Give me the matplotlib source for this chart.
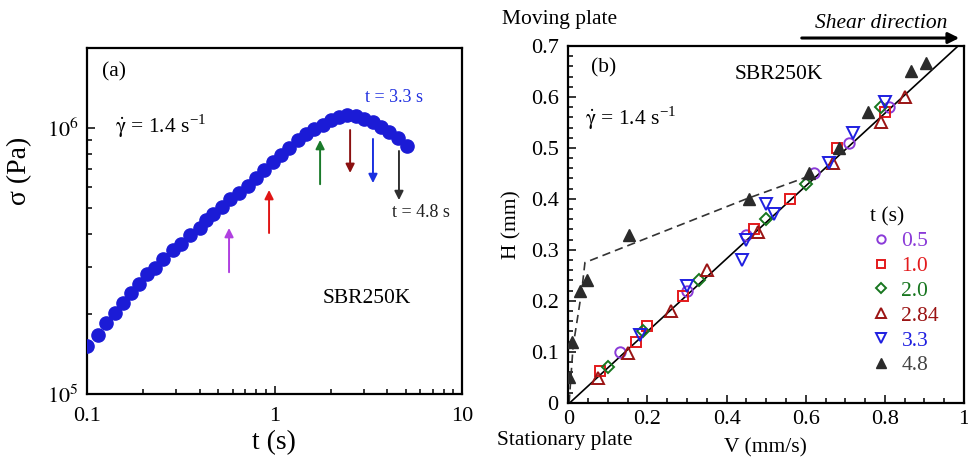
import matplotlib
matplotlib.use("Agg")
import matplotlib.pyplot as plt
from matplotlib.ticker import MultipleLocator, LogLocator, NullFormatter

plt.rcParams['font.family'] = ['Liberation Serif', 'DejaVu Serif']
plt.rcParams['mathtext.fontset'] = 'stix'

# ---------------- Panel (a): stress growth ----------------
t_a = [0.10, 0.115, 0.126, 0.141, 0.155, 0.172, 0.190, 0.208, 0.230, 0.255,
       0.286, 0.317, 0.354, 0.401, 0.431, 0.472, 0.523, 0.579, 0.649, 0.725,
       0.796, 0.883, 0.977, 1.08, 1.20, 1.33, 1.47, 1.63, 1.81, 2.00,
       2.22, 2.45, 2.72, 3.01, 3.34, 3.70, 4.10, 4.54, 5.07]
sigma_a = [1.51e5, 1.67e5, 1.85e5, 2.02e5, 2.19e5, 2.39e5, 2.59e5, 2.83e5, 2.97e5, 3.22e5,
           3.48e5, 3.68e5, 3.95e5, 4.21e5, 4.50e5, 4.77e5, 5.05e5, 5.39e5, 5.71e5, 6.05e5,
           6.50e5, 6.95e5, 7.47e5, 7.91e5, 8.43e5, 9.01e5, 9.47e5, 9.89e5, 1.03e6, 1.07e6,
           1.10e6, 1.12e6, 1.11e6, 1.08e6, 1.05e6, 1.01e6, 9.68e5, 9.20e5, 8.57e5]

# arrows marking snapshot times: x position, tail and head stress values
arrow_t = [0.572, 0.935, 1.75, 2.53, 3.35, 4.61]
arrow_tail = [2.87e5, 4.03e5, 6.15e5, 9.83e5, 9.10e5, 8.20e5]
arrow_head = [4.21e5, 5.85e5, 9.02e5, 6.78e5, 6.21e5, 5.36e5]
arrow_colors = ['#b040e0', '#e01515', '#1a7a2a', '#8b1010', '#1a30e0', '#303030']

# ---------------- Panel (b): velocity profiles ----------------
v_05 = [0.13, 0.30, 0.45, 0.62, 0.71, 0.81]
h_05 = [0.10, 0.22, 0.33, 0.45, 0.51, 0.58]
v_10 = [0.08, 0.17, 0.20, 0.29, 0.47, 0.56, 0.68, 0.80]
h_10 = [0.063, 0.12, 0.15, 0.21, 0.34, 0.40, 0.50, 0.57]
v_20 = [0.10, 0.19, 0.33, 0.50, 0.60, 0.79]
h_20 = [0.07, 0.14, 0.24, 0.36, 0.43, 0.58]
v_284 = [0.075, 0.15, 0.26, 0.35, 0.48, 0.67, 0.79, 0.85]
h_284 = [0.048, 0.098, 0.18, 0.26, 0.335, 0.47, 0.55, 0.60]
v_33 = [0.18, 0.30, 0.44, 0.45, 0.50, 0.52, 0.66, 0.72, 0.80]
h_33 = [0.133, 0.23, 0.28, 0.32, 0.39, 0.37, 0.47, 0.53, 0.59]
v_48 = [0.003, 0.009, 0.030, 0.047, 0.153, 0.457, 0.608, 0.684, 0.758, 0.866, 0.905]
h_48 = [0.05, 0.12, 0.22, 0.24, 0.33, 0.40, 0.45, 0.50, 0.57, 0.65, 0.667]

line_v = [0.004, 0.985]
line_h = [0.0, 0.70]
dash_v = [0.002, 0.012, 0.034, 0.042, 0.45, 0.61]
dash_h = [0.0, 0.11, 0.22, 0.275, 0.40, 0.445]

series_labels = ['0.5', '1.0', '2.0', '2.84', '3.3', '4.8']
series_colors = ['#8a3ad8', '#e31a1c', '#17761f', '#9b1414', '#1f1fe0', '#2b2b2b']
legend_text_colors = ['#8a3ad8', '#e31a1c', '#17761f', '#9b1414', '#1f1fe0', '#444444']

fig = plt.figure(figsize=(9.68, 4.58), dpi=100)

# ---------- (a) ----------
axa = fig.add_axes([0.0899, 0.1397, 0.3874, 0.7555])
axa.plot(t_a, sigma_a, 'o', color='#1b1bd6', ms=9.5, mec='#1b1bd6', zorder=3)
axa.set_xscale('log')
axa.set_yscale('log')
axa.set_xlim(0.1, 10)
axa.set_ylim(1e5, 2e6)
for x, y0, y1, c in zip(arrow_t, arrow_tail, arrow_head, arrow_colors):
    axa.annotate('', xy=(x, y1), xytext=(x, y0),
                 arrowprops=dict(arrowstyle='-|>', color=c, lw=1.4, mutation_scale=13,
                                 shrinkA=0, shrinkB=0))
axa.set_xticks([0.1, 1, 10])
axa.set_xticklabels(['0.1', '1', '10'])
axa.xaxis.set_minor_locator(LogLocator(base=10, subs=range(2, 10)))
axa.xaxis.set_minor_formatter(NullFormatter())
axa.set_yticks([1e5, 1e6])
axa.set_yticklabels([r'$10^5$', r'$10^6$'])
axa.yaxis.set_minor_locator(LogLocator(base=10, subs=range(2, 10)))
axa.yaxis.set_minor_formatter(NullFormatter())
axa.tick_params(which='both', direction='in', top=False, right=False, width=1.1)
axa.tick_params(which='major', length=6, labelsize=16)
axa.tick_params(which='minor', length=3.5)
axa.tick_params(axis='x', pad=9)
axa.tick_params(axis='y', pad=6)
for s in axa.spines.values():
    s.set_linewidth(1.6)
axa.set_xlabel('t (s)', fontsize=20, va='center')
axa.xaxis.set_label_coords(0.499, -0.139)
axa.set_ylabel('σ (Pa)', fontsize=20, va='center')
axa.yaxis.set_label_coords(-0.179, 0.645)

axa.text(0.073, 0.931, '(a)', transform=axa.transAxes, fontsize=15.5, ha='center', va='center')
axa.text(0.075, 0.772, r'$\dot{\mathrm{\gamma}}$ = 1.4 s$^{\mathregular{-1}}$', transform=axa.transAxes,
         fontsize=15.5, ha='left', va='center')
axa.text(0.741, 0.858, 't = 3.3 s', transform=axa.transAxes, fontsize=13, color='#2030e0',
         ha='left', va='center')
axa.text(0.813, 0.526, 't = 4.8 s', transform=axa.transAxes, fontsize=13, color='#202020',
         ha='left', va='center')
axa.text(0.627, 0.277, 'SBR250K', transform=axa.transAxes, fontsize=15.5, ha='left', va='center')

# ---------- (b) ----------
axb = fig.add_axes([0.5871, 0.1207, 0.4088, 0.7789])
axb.plot(line_v, line_h, '-', color='black', lw=1.2, zorder=2)
axb.plot(dash_v, dash_h, color='#333333', lw=1.2, linestyle=(0, (5, 3)), zorder=2)

mk = dict(mfc='none', mew=1.4, ls='none', zorder=3)
axb.plot(v_05, h_05, 'o', color=series_colors[0], ms=7.5, label=series_labels[0], **mk)
axb.plot(v_10, h_10, 's', color=series_colors[1], ms=7.5, label=series_labels[1], **mk)
axb.plot(v_20, h_20, 'D', color=series_colors[2], ms=6.5, label=series_labels[2], **mk)
axb.plot(v_284, h_284, '^', color=series_colors[3], ms=8.5, label=series_labels[3], **mk)
axb.plot(v_33, h_33, 'v', color=series_colors[4], ms=8.5, label=series_labels[4], **mk)
axb.plot(v_48, h_48, '^', color=series_colors[5], ms=8.5, mfc=series_colors[5], mew=1.0,
         ls='none', zorder=4, label=series_labels[5])

axb.set_xlim(0, 1)
axb.set_ylim(0, 0.7)
axb.set_xticks([0, 0.2, 0.4, 0.6, 0.8, 1.0])
axb.set_xticklabels(['0', '0.2', '0.4', '0.6', '0.8', '1'])
axb.set_yticks([0, 0.1, 0.2, 0.3, 0.4, 0.5, 0.6, 0.7])
axb.set_yticklabels(['0', '0.1', '0.2', '0.3', '0.4', '0.5', '0.6', '0.7'])
axb.xaxis.set_minor_locator(MultipleLocator(0.05))
axb.yaxis.set_minor_locator(MultipleLocator(0.02))
axb.tick_params(which='both', direction='in', top=False, right=False, width=1.1)
axb.tick_params(which='major', length=6, labelsize=16)
axb.tick_params(which='minor', length=3.5)
axb.tick_params(axis='x', pad=5)
axb.tick_params(axis='y', pad=7)
for s in axb.spines.values():
    s.set_linewidth(1.6)
axb.set_xlabel('V (mm/s)', fontsize=15.5, va='center')
axb.xaxis.set_label_coords(0.497, -0.127)
axb.set_ylabel('H (mm)', fontsize=15.5, va='center')
axb.yaxis.set_label_coords(-0.143, 0.498)

leg = axb.legend(title='t (s)', loc='upper left', bbox_to_anchor=(0.725, 0.59),
                 frameon=False, fontsize=15.5, title_fontsize=15.5, markerscale=0.8,
                 handlelength=1.0, handletextpad=0.45, labelspacing=0.22,
                 labelcolor=legend_text_colors, borderpad=0.2)
leg._legend_box.align = 'left'

axb.text(0.089, 0.938, '(b)', transform=axb.transAxes, fontsize=15.5, ha='center', va='center')
axb.text(0.421, 0.921, 'SBR250K', transform=axb.transAxes, fontsize=15.5, ha='left', va='center')
axb.text(0.042, 0.798, r'$\dot{\mathrm{\gamma}}$ = 1.4 s$^{\mathregular{-1}}$', transform=axb.transAxes,
         fontsize=15.5, ha='left', va='center')

fig.text(0.5186, 0.9585, 'Moving plate', fontsize=15.5, ha='left', va='center')
fig.text(0.5134, 0.0393, 'Stationary plate', fontsize=15.5, ha='left', va='center')
fig.text(0.842, 0.9476, 'Shear direction', fontsize=15.5, style='italic', ha='left', va='center')
fig.patches.append(matplotlib.patches.FancyArrowPatch(
    (0.8254, 0.917), (0.9938, 0.917), transform=fig.transFigure,
    arrowstyle='-|>', mutation_scale=16, lw=2.2, color='black'))

fig.savefig('out.png', dpi=100)
